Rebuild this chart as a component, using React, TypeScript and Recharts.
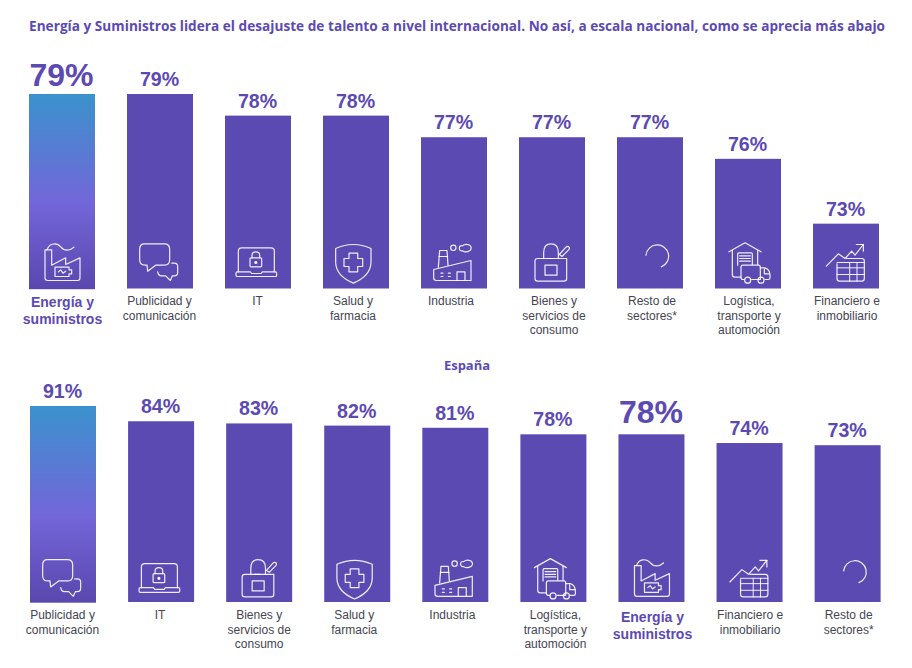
import React from "react";
import { BarChart, Bar, XAxis, YAxis, LabelList } from "recharts";

const titleText =
  "Energía y Suministros lidera el desajuste de talento a nivel internacional. No así, a escala nacional, como se aprecia más abajo";
const spainTitle = "España";

const ENERGY = "Energía y\nsuministros";
const ADS = "Publicidad y\ncomunicación";
const IT = "IT";
const HEALTH = "Salud y\nfarmacia";
const INDUSTRY = "Industria";
const GOODS = "Bienes y\nservicios de\nconsumo";
const OTHER = "Resto de\nsectores*";
const LOGISTICS = "Logística,\ntransporte y\nautomoción";
const FINANCE = "Financiero e\ninmobiliario";

const worldCategories = [ENERGY, ADS, IT, HEALTH, INDUSTRY, GOODS, OTHER, LOGISTICS, FINANCE];
const worldValues = [79, 79, 78, 78, 77, 77, 77, 76, 73];

const spainCategories = [ADS, IT, GOODS, HEALTH, INDUSTRY, LOGISTICS, ENERGY, FINANCE, OTHER];
const spainValues = [91, 84, 83, 82, 81, 78, 78, 74, 73];

const worldData = worldCategories.map((name, i) => ({ name, value: worldValues[i] }));
const spainData = spainCategories.map((name, i) => ({ name, value: spainValues[i] }));

const PURPLE = "#5c4ab3";
const TICK_GREY = "#454552";
const SANS = "'Liberation Sans', Arial, sans-serif";

const worldNudge = [0.5, -0.5, -0.5, -3, -3, 2, 2, 1, 1];
const spainNudge = [-0.5, -1, 0, -3, -3, 2, 1, 0.5, 1];

// Icon outlines, drawn on a 3x grid measured from the bar's left edge and (bottom - 54px).
const Icon = ({ name }: { name: string }) => {
  switch (name) {
    case ENERGY:
      return (
        <g>
          <path d="M48 46 V130 Q48 138 56 138 H146 Q153 138 153 130 V70 L110 90 V70 L68 92 V46 Z" />
          <path d="M54 46 C62 24 84 24 96 38 C106 50 122 50 135 38" />
          <path d="M78 98 H120 V106 H128 V118 H120 V126 H78 Z" />
          <path d="M88 112 L95 106 L102 116 L110 110" />
        </g>
      );
    case ADS:
      return (
        <g>
          <path d="M52 28 H112 Q128 28 128 44 V76 Q128 92 112 92 H86 L62 110 L60 92 H54 Q38 92 38 76 V44 Q38 28 52 28 Z" />
          <path d="M134 86 H142 Q152 86 152 96 V114 Q152 124 142 124 H136 L130 138 L116 124 H104 Q94 124 92 112" />
        </g>
      );
    case IT:
      return (
        <g>
          <path d="M40 112 V50 Q40 40 50 40 H138 Q148 40 148 50 V112" />
          <path d="M33 116 Q33 112 37 112 H76 L80 117 H108 L112 112 H151 Q155 112 155 116 V122 Q155 126 151 126 H37 Q33 126 33 122 Z" />
          <rect x="75" y="70" width="35" height="27" rx="3" />
          <path d="M81 70 V62 Q81 52 92.5 52 Q104 52 104 62 V70" />
          <circle cx="92.5" cy="84" r="3" fill="#fff" />
        </g>
      );
    case HEALTH:
      return (
        <g>
          <path d="M38 42 Q91 18 144 42 V85 Q142 125 91 146 Q40 125 38 85 Z" />
          <path d="M78 56 H104 V72 H119 V96 H104 V112 H78 V96 H63 V72 H78 Z" />
        </g>
      );
    case INDUSTRY:
      return (
        <g>
          <path d="M38 105 L150 78 V138 H46 Q38 138 38 130 Z" />
          <path d="M52 98 L56 48 H78 L81 92" />
          <path d="M54 66 H80" />
          <path d="M108 138 V112 H132 V138" />
          <path d="M60 116 H66 M60 126 H66 M82 116 H88 M82 126 H88" />
          <circle cx="97" cy="40" r="8" />
          <path d="M115 41 Q115 32 124 34 Q134 26 146 32 Q155 40 147 48 Q134 56 124 49 Q115 50 115 41 Z" />
        </g>
      );
    case GOODS:
      return (
        <g>
          <path d="M56 72 H143 V132 Q143 140 135 140 H56 Q48 140 48 132 V80 Q48 72 56 72 Z" />
          <path d="M74 72 V54 Q74 28 96 28 Q118 28 118 54 V72" />
          <path d="M86 72 H102" />
          <rect x="78" y="92" width="36" height="30" />
          <path d="M121 60 L141 38 Q146 34 150 38 Q153 42 149 46 L129 66 Z" />
        </g>
      );
    case OTHER:
      return <path d="M87 62 A34 34 0 1 1 133 97" />;
    case LOGISTICS:
      return (
        <g>
          <path d="M42 52 L90 25 L138 52" />
          <path d="M52 48 V120 Q52 128 60 128 H78" />
          <path d="M128 48 V90" />
          <path d="M68 92 V58 Q68 55 71 55 H109 Q112 55 112 58 V90" />
          <path d="M74 64 H106 M74 72 H106 M74 80 H106" />
          <path d="M88 135 H84 Q78 135 78 129 V98 Q78 92 84 92 H130 Q136 92 136 98 V135 H110" />
          <path d="M136 100 H150 Q165 106 165 122 V130 Q165 135 160 135 H150" />
          <path d="M148 104 V118 H164" />
          <circle cx="98" cy="137" r="9" />
          <circle cx="138" cy="137" r="9" />
        </g>
      );
    case FINANCE:
      return (
        <g>
          <path d="M40 95 L76 58 L96 72 L116 50 L126 62 L151 30" />
          <path d="M130 30 H151 V50" />
          <path d="M100 72 H146 Q154 72 154 80 V132 Q154 140 146 140 H80 Q72 140 72 132 V88" />
          <path d="M72 100 H154 M72 120 H154 M72 84 H154" strokeWidth="3" />
          <path d="M110 84 V140 M132 84 V140" strokeWidth="3" />
        </g>
      );
    default:
      return null;
  }
};

const makeShape =
  (gradId: string, iconDrop: number) =>
  (props: any) => {
    const { x, y, width, height, index, payload } = props;
    const bottom = y + height;
    return (
      <g>
        <rect
          x={x}
          y={y}
          width={width}
          height={height + (index === 0 ? 0.7 : 0)}
          fill={index === 0 ? `url(#${gradId})` : PURPLE}
        />
        <g
          transform={`translate(${x},${bottom - 54 + iconDrop}) scale(${1 / 3})`}
          fill="none"
          stroke="#ffffff"
          strokeOpacity={0.9}
          strokeWidth={3.6}
          strokeLinejoin="round"
          strokeLinecap="round"
        >
          <Icon name={payload.name} />
        </g>
      </g>
    );
  };

const makeTick =
  (nudge: number[], plainY: number, boldY: number) =>
  (props: any) => {
    const { x, payload, index } = props;
    const lines: string[] = String(payload.value).split("\n");
    const bold = payload.value === ENERGY;
    const cx = x + nudge[index];
    return (
      <text
        textAnchor="middle"
        fontFamily={SANS}
        fontSize={bold ? 14 : 12}
        fontWeight={bold ? 700 : 400}
        fill={bold ? PURPLE : TICK_GREY}
      >
        {lines.map((line, i) => (
          <tspan key={i} x={cx} y={(bold ? boldY : plainY) + i * (bold ? 16.8 : 14.3)}>
            {line}
          </tspan>
        ))}
      </text>
    );
  };

const makeLabel =
  (data: { name: string }[], bigGap: number) =>
  (props: any) => {
    const { x, y, width, value, index } = props;
    const big = data[index].name === ENERGY;
    return (
      <text
        x={x + width / 2 - 0.5}
        y={y - (big ? bigGap : 8)}
        textAnchor="middle"
        fontFamily={SANS}
        fontWeight={700}
        fontSize={big ? 32 : 19.6}
        fill={PURPLE}
      >
        {value}%
      </text>
    );
  };

const Panel = ({
  data,
  gradId,
  top,
  height,
  plotTop,
  axisHeight,
  left,
  right,
  domain,
  nudge,
  plainY,
  boldY,
  bigGap,
  iconDrop,
}: any) => (
  <div style={{ position: "absolute", left: 0, top }}>
    <BarChart
      width={912}
      height={height}
      data={data}
      margin={{ top: plotTop, right, bottom: 0, left }}
      barCategoryGap={0}
    >
      <defs>
        <linearGradient id={gradId} x1="0" y1="0" x2="0" y2="1">
          <stop offset="0%" stopColor="#3a92cd" />
          <stop offset="56%" stopColor="#7366d9" />
          <stop offset="100%" stopColor="#5a47ae" />
        </linearGradient>
      </defs>
      <XAxis
        dataKey="name"
        interval={0}
        axisLine={false}
        tickLine={false}
        height={axisHeight}
        tick={makeTick(nudge, plainY, boldY)}
      />
      <YAxis hide type="number" domain={domain} />
      <Bar dataKey="value" barSize={66} isAnimationActive={false} shape={makeShape(gradId, iconDrop)}>
        <LabelList dataKey="value" content={makeLabel(data, bigGap)} />
      </Bar>
    </BarChart>
  </div>
);

export default function App() {
  return (
    <div
      style={{
        position: "absolute",
        left: 0,
        top: 0,
        width: 912,
        height: 668,
        background: "#fff",
        overflow: "hidden",
      }}
    >
      <Panel
        data={worldData}
        gradId="gradWorld"
        top={0}
        height={345}
        plotTop={94}
        axisHeight={56.5}
        left={13}
        right={17}
        domain={[70, 79]}
        nudge={worldNudge}
        plainY={305.3}
        boldY={307}
        bigGap={8.5}
        iconDrop={0}
      />
      <Panel
        data={spainData}
        gradId="gradSpain"
        top={345}
        height={323}
        plotTop={61}
        axisHeight={66}
        left={14}
        right={15.3}
        domain={[1, 91]}
        nudge={spainNudge}
        plainY={274.3}
        boldY={276.7}
        bigGap={11}
        iconDrop={2.3}
      />
      <svg width={912} height={668} style={{ position: "absolute", left: 0, top: 0, pointerEvents: "none" }}>
        <text
          x={29}
          y={31}
          fontFamily="'Open Sans', sans-serif"
          fontWeight={700}
          fontSize={13.6}
          fill={PURPLE}
          textLength={856}
          lengthAdjust="spacing"
        >
          {titleText}
        </text>
        <text
          x={467}
          y={370}
          textAnchor="middle"
          fontFamily="'Open Sans', sans-serif"
          fontWeight={700}
          fontSize={13}
          fill={PURPLE}
        >
          {spainTitle}
        </text>
      </svg>
    </div>
  );
}
